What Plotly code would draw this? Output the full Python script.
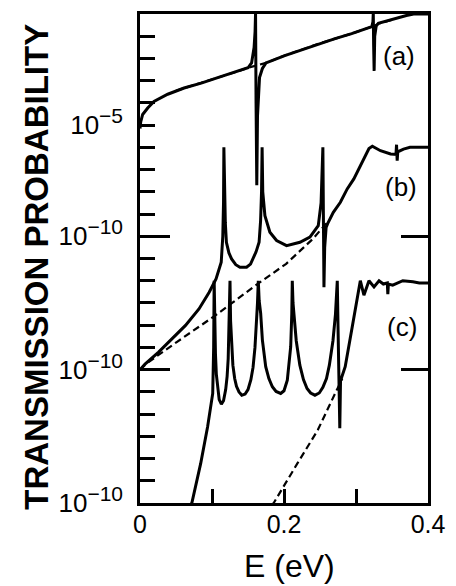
import plotly.graph_objects as go

# ---------------- data (energies in eV, values = log10 of transmission, each curve on its own scale)
E_a = [0.0, 0.001, 0.0037, 0.0107, 0.0194, 0.0385, 0.0612, 0.085, 0.108, 0.131, 0.150, 0.155, 0.1585,
       0.1598, 0.1605, 0.1612, 0.1622, 0.1632, 0.166, 0.170, 0.175, 0.201, 0.225, 0.248, 0.271, 0.294,
       0.317, 0.322, 0.3235, 0.3240, 0.3245, 0.3252, 0.326, 0.328, 0.331, 0.354, 0.370, 0.380, 0.40]
T_a = [-5.15, -4.85, -4.52, -4.23, -3.93, -3.61, -3.33, -3.11, -2.86, -2.63, -2.42, -2.2, -1.49,
       -0.8, 0.05, -4.0, -7.7, -4.6, -2.86, -2.45, -2.2, -1.87, -1.61, -1.34, -1.11, -0.88,
       -0.65, -0.57, -0.35, 0.05, -1.4, -2.56, -1.0, -0.55, -0.42, -0.2, -0.07, 0.0, 0.0]

E_a_bg = [0.05, 0.085, 0.108, 0.131, 0.150, 0.162, 0.175, 0.201, 0.248, 0.294, 0.317, 0.324, 0.331, 0.354]
T_a_bg = [-3.45, -3.11, -2.86, -2.63, -2.42, -2.32, -2.2, -1.87, -1.34, -0.88, -0.65, -0.55, -0.44, -0.22]

E_b = [0.0, 0.007, 0.0258, 0.0444, 0.0632, 0.0819, 0.0961, 0.1056, 0.1128, 0.1150, 0.1160, 0.1165,
       0.1172, 0.1185, 0.120, 0.1235, 0.1272, 0.133, 0.1388, 0.148, 0.1535, 0.1568, 0.1612, 0.1654,
       0.1675, 0.1688, 0.1696,
       0.1705, 0.1735, 0.1804, 0.1897, 0.2036, 0.2221, 0.236, 0.2476, 0.2515, 0.2532, 0.2540,
       0.2547, 0.2555, 0.2565, 0.2585, 0.2615, 0.2685, 0.2783, 0.2878, 0.297, 0.311, 0.318,
       0.3227, 0.334, 0.348, 0.3555, 0.3563, 0.3572, 0.358, 0.366, 0.375, 0.40]
T_b = [-10.0, -9.75, -9.21, -8.62, -8.01, -7.27, -6.52, -5.92, -5.17, -4.0, -2.5, 0.0,
       -2.2, -3.4, -4.27, -4.75, -5.02, -5.28, -5.39, -5.39, -5.25, -5.02, -4.7, -4.27,
       -3.3, -2.0, 0.0,
       -2.0, -3.07, -3.82, -4.19, -4.42, -4.27, -4.04, -3.52, -2.5, -1.0, 0.0,
       -3.0, -6.29, -4.5, -3.6, -3.37, -2.92, -2.47, -1.87, -1.42, -0.53, -0.05,
       0.05, -0.15, -0.30, -0.32, 0.12, -0.6, -0.2, -0.08, 0.0, 0.0]

E_b_bg = [0.0, 0.01, 0.051, 0.103, 0.128, 0.161, 0.203, 0.240, 0.258, 0.2615]
T_b_bg = [-10.0, -9.7, -8.76, -7.6, -7.0, -6.2, -5.24, -4.12, -3.45, -3.37]

E_c = [0.068, 0.072, 0.0843, 0.0939, 0.101, 0.1023, 0.1030, 0.1038, 0.1048, 0.106, 0.108, 0.110,
       0.113, 0.116, 0.119, 0.121, 0.1225, 0.1238, 0.1250, 0.1258, 0.127, 0.129, 0.1315, 0.134,
       0.1375, 0.1414, 0.146, 0.150, 0.154, 0.157, 0.1597, 0.1615, 0.1632, 0.1643,
       0.1655, 0.1676, 0.170, 0.1746, 0.179, 0.1838, 0.189, 0.1954, 0.200, 0.2046, 0.2075,
       0.2093, 0.2108, 0.2115, 0.2125,
       0.214, 0.217, 0.222, 0.227, 0.232, 0.237, 0.243, 0.249, 0.254, 0.259, 0.263, 0.268, 0.2715,
       0.2733, 0.2740, 0.2750,
       0.2775, 0.2785, 0.285, 0.294, 0.301, 0.306, 0.311, 0.318, 0.325, 0.332, 0.338, 0.3435,
       0.3442, 0.345, 0.351, 0.365, 0.379, 0.388, 0.40]
T_c = [-10.4, -10.0, -8.22, -6.57, -5.07, -3.0, 0.0, -2.0, -3.3, -4.2, -4.9, -5.35,
       -5.55, -5.4, -4.9, -4.3, -3.5, -2.2, 0.0, -1.8, -2.9, -3.8, -4.4, -4.75,
       -5.0, -5.15, -5.1, -4.9, -4.45, -3.9, -3.0, -2.2, -1.0, 0.0,
       -0.9, -1.47, -2.67, -3.87, -4.4, -4.77, -4.98, -5.07, -4.95, -4.47, -3.7,
       -2.97, -1.5, 0.0, -1.0,
       -1.6, -2.7, -3.8, -4.45, -4.85, -5.05, -5.15, -5.05, -4.8, -4.4, -3.8, -2.7, -1.5,
       -0.6, 0.0, -2.0,
       -6.64, -4.5, -3.87, -2.22, -0.88, 0.0, -0.65, 0.0, -0.28, 0.0, -0.15, -0.1,
       -0.6, -0.15, -0.2, 0.0, -0.05, -0.1, -0.1]

E_c_bg = [0.183, 0.1857, 0.2186, 0.2469, 0.2735, 0.281]
T_c_bg = [-10.1, -10.0, -8.22, -6.72, -4.9, -4.4]

# decade offsets of the stacked curves (a), (b), (c)
offsets = {"a": 0, "b": -6, "c": -12}
curve_labels = ["(a)", "(b)", "(c)"]

# y tick positions (global decades) and labels
SUP = "<sup><span style='font-size:21px'>{}</span></sup>"
ytick_exp = list(range(0, -23, -1))
ytick_labels = {0: "1", -5: "10" + SUP.format("\u22125"), -10: "10" + SUP.format("\u221210"),
                -16: "10" + SUP.format("\u221210"), -22: "10" + SUP.format("\u221210")}
long_tick_exp = [-10, -16]
xtick_vals = [0, 0.1, 0.2, 0.3, 0.4]
xtick_text = ["0", "", "0.2", "", "0.4"]

FONT = "Liberation Sans, Arial, Helvetica, sans-serif"


def to_T(vals, off):
    return [10 ** (v + off) for v in vals]


fig = go.Figure()
solid = dict(color="black", width=3)
dashed = dict(color="black", width=2.2, dash="7px,4px")

fig.add_trace(go.Scatter(x=E_a_bg, y=to_T(T_a_bg, offsets["a"]), mode="lines", line=dashed))
fig.add_trace(go.Scatter(x=E_a, y=to_T(T_a, offsets["a"]), mode="lines", line=solid))
fig.add_trace(go.Scatter(x=E_b_bg, y=to_T(T_b_bg, offsets["b"]), mode="lines", line=dashed))
fig.add_trace(go.Scatter(x=E_b, y=to_T(T_b, offsets["b"]), mode="lines", line=solid))
fig.add_trace(go.Scatter(x=E_c_bg, y=to_T(T_c_bg, offsets["c"]), mode="lines", line=dashed))
fig.add_trace(go.Scatter(x=E_c, y=to_T(T_c, offsets["c"]), mode="lines", line=solid))
# invisible traces to activate the extra tick axes
fig.add_trace(go.Scatter(x=[None], y=[None], yaxis="y2", showlegend=False))
fig.add_trace(go.Scatter(x=[None], y=[None], yaxis="y3", showlegend=False))

yvals = [10 ** e for e in ytick_exp]
ytext = [ytick_labels.get(e, "") for e in ytick_exp]
long_vals = [10 ** e for e in long_tick_exp]

axis_common = dict(showgrid=False, zeroline=False, linecolor="black", linewidth=2.5,
                   tickcolor="black", tickwidth=2.5, automargin=False)

# the page body adds an 8px offset, so the figure is sized to fit the 456x586 window
fig.update_layout(
    width=448, height=578,
    margin=dict(l=132, r=28, t=6, b=83),
    paper_bgcolor="white", plot_bgcolor="white",
    showlegend=False,
    font=dict(family=FONT, color="black"),
    xaxis=dict(range=[0, 0.4], tickvals=xtick_vals, ticktext=xtick_text, ticks="inside",
               ticklen=14, showline=True, mirror=True, tickfont=dict(size=25),
               ticklabelstandoff=-3, **axis_common),
    yaxis=dict(type="log", range=[-22, 0], tickvals=yvals, ticktext=ytext, ticks="inside",
               ticklen=15, showline=True, mirror=True, tickfont=dict(size=26),
               ticklabelstandoff=9, **axis_common),
    yaxis2=dict(type="log", range=[-22, 0], overlaying="y", side="left", anchor="x",
                tickvals=long_vals, ticks="inside", ticklen=30, showticklabels=False,
                showline=False, **axis_common),
    yaxis3=dict(type="log", range=[-22, 0], overlaying="y", side="right", anchor="x",
                tickvals=long_vals, ticks="inside", ticklen=27, showticklabels=False,
                showline=False, **axis_common),
)

label_pos = [(0.898, 0.914), (0.905, 0.646), (0.911, 0.360)]
for txt, (px, py) in zip(curve_labels, label_pos):
    fig.add_annotation(x=px, y=py, xref="paper", yref="paper", text=txt, showarrow=False,
                       font=dict(size=26, family=FONT), xanchor="center", yanchor="middle")

fig.add_annotation(x=-0.358, y=0.483, xref="paper", yref="paper",
                   text="<b>TRANSMISSION PROBABILITY</b>", textangle=-90, showarrow=False,
                   font=dict(size=33, family=FONT), xanchor="center", yanchor="middle")
fig.add_annotation(x=0.519, y=-0.129, xref="paper", yref="paper", text="E (eV)",
                   showarrow=False, font=dict(size=32, family=FONT),
                   xanchor="center", yanchor="middle")

fig.write_html("out.html")
